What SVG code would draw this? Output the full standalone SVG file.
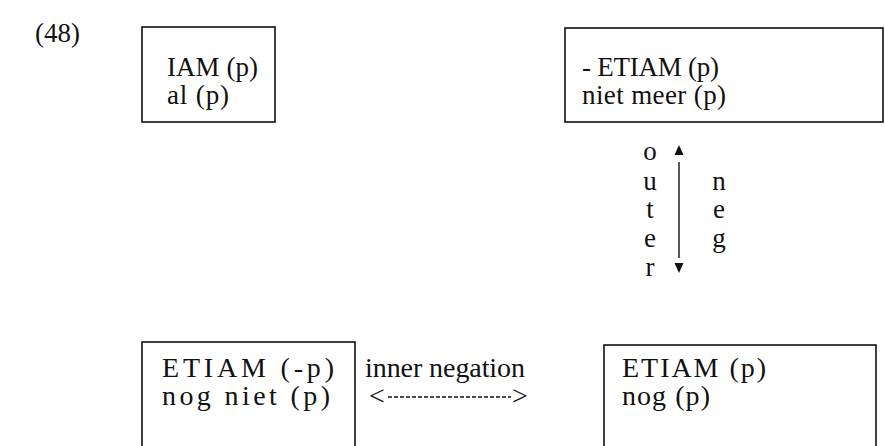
<svg xmlns="http://www.w3.org/2000/svg" width="885" height="446" viewBox="0 0 885 446">
  <style>
    text { font-family: "Liberation Serif", "Times New Roman", serif; font-size: 27px; fill: #111; }
    .big { font-size: 28px; }
    .box { fill: none; stroke: #111; stroke-width: 1.6; }
    .lbl { text-anchor: middle; font-size: 28px; }
    .link { stroke: #111; stroke-width: 1.4; fill: none; }
    .dash { stroke: #111; stroke-width: 1.3; stroke-dasharray: 4 2; }
    .head { fill: #111; }
  </style>
  <rect width="885" height="446" fill="#fff"/>

  <text x="35" y="42">(48)</text>

  <g id="iam">
    <rect class="box" x="142" y="27" width="133" height="95"/>
    <text x="167" y="76" textLength="91" lengthAdjust="spacing">IAM (p)</text>
    <text x="167" y="104" textLength="62" lengthAdjust="spacing">al (p)</text>
  </g>

  <g id="not-etiam">
    <rect class="box" x="565" y="28" width="318" height="94"/>
    <text x="582" y="76" textLength="137" lengthAdjust="spacing">- ETIAM (p)</text>
    <text x="582" y="104" textLength="144" lengthAdjust="spacing">niet meer (p)</text>
  </g>

  <g id="etiam-neg">
    <rect class="box" x="142" y="342" width="213" height="112"/>
    <text class="big" x="162" y="377" textLength="172" lengthAdjust="spacing">ETIAM (-p)</text>
    <text class="big" x="162" y="405" textLength="168" lengthAdjust="spacing">nog niet (p)</text>
  </g>

  <g id="etiam">
    <rect class="box" x="604" y="345" width="272" height="112"/>
    <text class="big" x="622" y="377" textLength="144" lengthAdjust="spacing">ETIAM (p)</text>
    <text class="big" x="622" y="405" textLength="88" lengthAdjust="spacing">nog (p)</text>
  </g>

  <g id="connectors">
    <!-- outer negation: vertical double-headed arrow -->
    <polygon class="head" points="679,145 674.5,155 683.5,155"/>
    <line class="link" x1="679" y1="162" x2="679" y2="258"/>
    <polygon class="head" points="679,273 674.5,263 683.5,263"/>
    <g class="lbl">
      <text x="650" y="160">o</text>
      <text x="650" y="190">u</text>
      <text x="650" y="218">t</text>
      <text x="650" y="247">e</text>
      <text x="650" y="276">r</text>
      <text x="719" y="190">n</text>
      <text x="719" y="218">e</text>
      <text x="719" y="247">g</text>
    </g>

    <!-- inner negation: horizontal double-headed dashed arrow -->
    <text class="big" x="365" y="377" textLength="160" lengthAdjust="spacing">inner negation</text>
    <text class="big" x="369" y="405">&lt;</text>
    <line class="dash" x1="388" y1="397" x2="511" y2="397"/>
    <text class="big" x="512" y="405">&gt;</text>
  </g>
</svg>
